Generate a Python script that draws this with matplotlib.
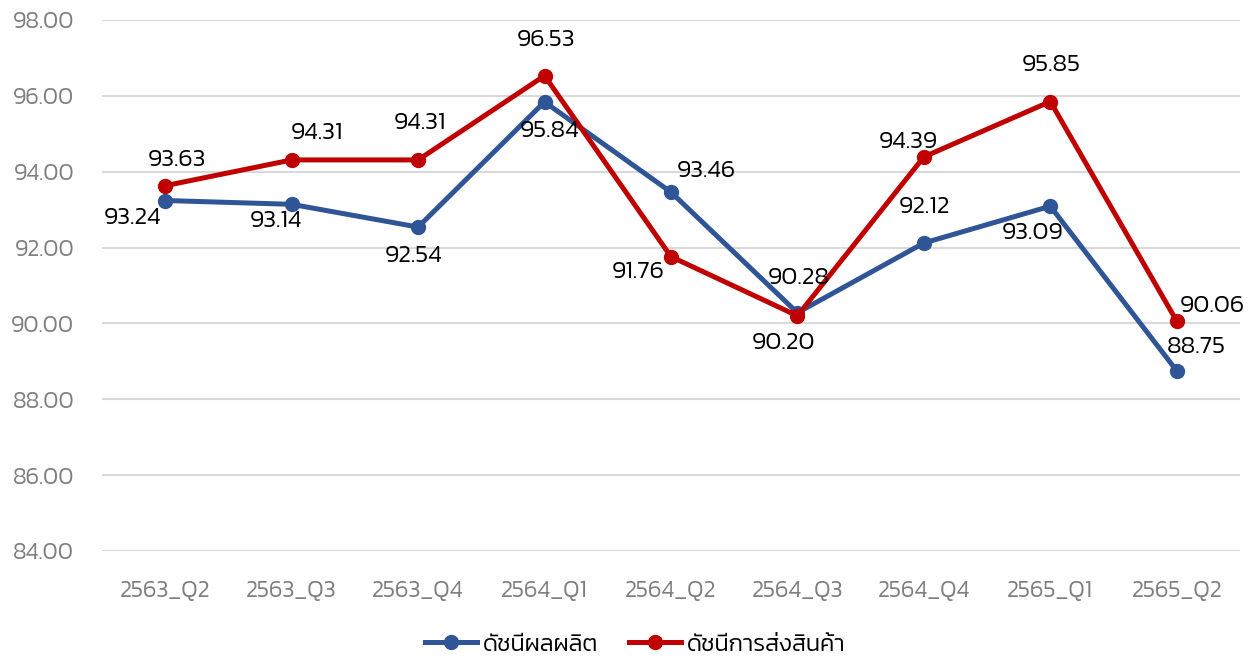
import numpy as np
import matplotlib
matplotlib.use("Agg")
import matplotlib.pyplot as plt

# data
quarters = ["2563_Q2", "2563_Q3", "2563_Q4", "2564_Q1", "2564_Q2",
            "2564_Q3", "2564_Q4", "2565_Q1", "2565_Q2"]
production = [93.24, 93.14, 92.54, 95.84, 93.46, 90.28, 92.12, 93.09, 88.75]
shipment = [93.63, 94.31, 94.31, 96.53, 91.76, 90.20, 94.39, 95.85, 90.06]
series_names = ["ดัชนีผลผลิต", "ดัชนีการส่งสินค้า"]

# label offsets in pixels (dx, dy)
prod_off = [(-33, -17), (-16, -17), (-5, -29), (5, -29), (35, 21), (1, 35), (1, 36), (-18, -27), (20, 24)]
ship_off = [(12, 26), (25, 27), (2, 37), (1, 36), (-33, -15), (-14, -27), (-16, 15), (1, 37), (36, 15)]

plt.rcParams['font.family'] = ["Kanit", "DejaVu Sans"]
plt.rcParams['font.weight'] = 300

blue = "#2F5597"
red = "#C00000"

fig = plt.figure(figsize=(12.53, 6.59), dpi=100)
ax = fig.add_axes([0.0814, 0.1639, 0.9082, 0.8058])
x = np.arange(len(quarters))

ax.plot(x, production, color=blue, lw=3.6, marker="o", ms=10, label=series_names[0], zorder=3)
ax.plot(x, shipment, color=red, lw=3.6, marker="o", ms=10, label=series_names[1], zorder=3)

for i in range(len(x)):
    ax.annotate("%.2f" % production[i], (x[i], production[i]), xytext=prod_off[i],
                textcoords="offset pixels", ha="center", va="center", fontsize=18, color="black", zorder=5)
    ax.annotate("%.2f" % shipment[i], (x[i], shipment[i]), xytext=ship_off[i],
                textcoords="offset pixels", ha="center", va="center", fontsize=18, color="black", zorder=5)

ax.set_xlim(-0.5, len(x) - 0.5)
ax.set_ylim(84, 98)
ax.set_yticks(np.arange(84, 98.1, 2))
ax.set_yticklabels(["%.2f" % v for v in np.arange(84, 98.1, 2)])
ax.set_xticks(x)
ax.set_xticklabels(quarters)
ax.tick_params(axis="both", length=0, labelsize=17, labelcolor="#7f7f7f")
ax.tick_params(axis="x", pad=21)
ax.tick_params(axis="y", pad=20)
ax.grid(axis="y", color="#d9d9d9", lw=1.5)
ax.set_axisbelow(True)
for s in ax.spines.values():
    s.set_visible(False)

leg = fig.legend(loc="center", bbox_to_anchor=(0.507, 0.022), ncol=2, frameon=False,
                 fontsize=17, handlelength=2.2, columnspacing=1.3, handletextpad=0.25)

fig.savefig("out.png", dpi=100)
